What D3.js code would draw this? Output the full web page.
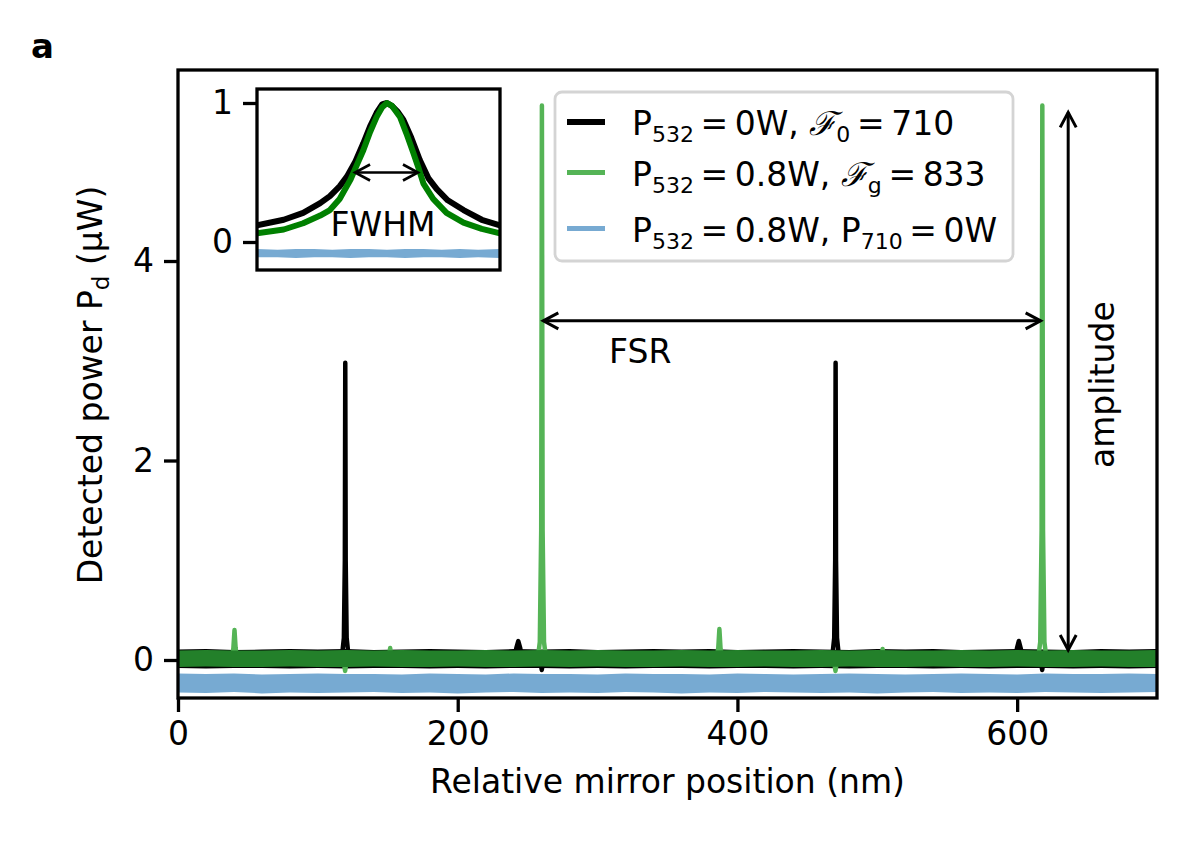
<!DOCTYPE html>
<html>
<head>
<meta charset="utf-8">
<script src="https://cdn.jsdelivr.net/npm/d3@7"></script>
<style>
  body { margin: 0; background: #fff; }
  text { font-family: "DejaVu Sans", sans-serif; fill: #000; }
</style>
</head>
<body>
<div id="container"></div>
<script>
// ---- data ----
// noise envelopes of the baselines, sampled every 20 nm
var envX = [0,20,40,60,80,100,120,140,160,180,200,220,240,260,280,300,320,340,360,380,400,420,440,460,480,500,520,540,560,580,600,620,640,660,680,700];
var blueHi  = [-0.135,-0.14,-0.135,-0.145,-0.14,-0.135,-0.14,-0.14,-0.145,-0.135,-0.14,-0.145,-0.135,-0.14,-0.14,-0.145,-0.135,-0.14,-0.14,-0.145,-0.135,-0.14,-0.145,-0.14,-0.135,-0.14,-0.145,-0.14,-0.135,-0.14,-0.145,-0.135,-0.14,-0.14,-0.135,-0.14];
var blueLo  = [-0.325,-0.33,-0.32,-0.335,-0.325,-0.33,-0.325,-0.32,-0.33,-0.325,-0.335,-0.325,-0.32,-0.33,-0.325,-0.33,-0.32,-0.325,-0.335,-0.325,-0.33,-0.32,-0.325,-0.33,-0.325,-0.335,-0.325,-0.32,-0.33,-0.325,-0.33,-0.32,-0.325,-0.33,-0.325,-0.32];
var greenHi = [0.095,0.10,0.095,0.095,0.10,0.095,0.10,0.095,0.10,0.095,0.095,0.10,0.095,0.10,0.095,0.10,0.095,0.095,0.10,0.095,0.10,0.095,0.095,0.10,0.095,0.10,0.095,0.095,0.10,0.095,0.10,0.095,0.10,0.095,0.095,0.10];
var greenLo = [-0.07,-0.065,-0.07,-0.07,-0.065,-0.07,-0.07,-0.065,-0.07,-0.07,-0.065,-0.07,-0.07,-0.065,-0.07,-0.065,-0.07,-0.07,-0.065,-0.07,-0.07,-0.065,-0.07,-0.07,-0.065,-0.07,-0.07,-0.065,-0.07,-0.07,-0.065,-0.07,-0.07,-0.065,-0.07,-0.07];
var blackHi = [0.105,0.11,0.10,0.105,0.11,0.105,0.11,0.10,0.105,0.11,0.105,0.10,0.11,0.105,0.11,0.10,0.105,0.11,0.105,0.11,0.10,0.105,0.11,0.105,0.10,0.11,0.105,0.11,0.10,0.105,0.11,0.105,0.10,0.11,0.105,0.11];
var blackLo = [-0.08,-0.085,-0.08,-0.08,-0.085,-0.08,-0.085,-0.08,-0.08,-0.085,-0.08,-0.085,-0.08,-0.08,-0.085,-0.08,-0.085,-0.08,-0.08,-0.085,-0.08,-0.08,-0.085,-0.08,-0.085,-0.08,-0.08,-0.085,-0.08,-0.085,-0.08,-0.08,-0.085,-0.08,-0.085,-0.08];

// P532 = 0 W trace (peaks, small dips where the other trace peaks)
var blackX = [0,116,117.4,118.6,119.3,119.6,119.9,120.6,121.8,123.2,240.5,241.9,243.3,244.7,246,258.8,260.1,261.4,466.6,468,469.2,469.9,470.2,470.5,471.2,472.4,473.8,598.5,599.9,601.2,602.5,604,616.6,617.9,619.2,700];
var blackY = [0.01,0.01,0.06,0.22,1.0,2.98,1.0,0.22,0.06,0.01,0.01,0.12,0.19,0.12,0.01,0.01,-0.1,0.01,0.01,0.06,0.22,1.0,2.98,1.0,0.22,0.06,0.01,0.01,0.12,0.19,0.12,0.01,0.01,-0.1,0.01,0.01];
// P532 = 0.8 W trace (peaks)
var greenX = [0,38.6,39.6,40.4,41.2,42.2,118.2,119.5,120.8,150.6,151.7,152.8,257.2,258.7,259.7,260.2,260.7,261.7,263.2,384.9,386.3,387.1,387.9,389.3,468.8,470.1,471.4,502.8,503.8,504.8,615,616.5,617.5,618,618.5,619.5,621,700];
var greenY = [0.01,0.01,0.12,0.30,0.12,0.01,0.01,-0.11,0.01,0.01,0.12,0.01,0.01,0.18,1.3,5.56,1.3,0.18,0.01,0.01,0.12,0.31,0.12,0.01,0.01,-0.11,0.01,0.01,0.11,0.01,0.01,0.18,1.3,5.56,1.3,0.18,0.01,0.01];

// inset (normalised peak)
var insBlackX = [-1.07,-0.85,-0.69,-0.55,-0.47,-0.39,-0.33,-0.26,-0.195,-0.14,-0.085,-0.04,0,0.04,0.085,0.134,0.2,0.27,0.34,0.41,0.5,0.63,0.78,0.93];
var insBlackY = [0.12,0.16,0.21,0.28,0.33,0.40,0.47,0.58,0.71,0.83,0.93,0.99,1.0,0.98,0.94,0.88,0.75,0.59,0.46,0.38,0.30,0.23,0.16,0.12];
var insGreenX = [-1.07,-0.85,-0.69,-0.55,-0.47,-0.39,-0.30,-0.245,-0.195,-0.14,-0.085,-0.04,0,0.04,0.107,0.16,0.217,0.26,0.3,0.38,0.49,0.63,0.78,0.93];
var insGreenY = [0.063,0.09,0.135,0.19,0.23,0.31,0.45,0.56,0.66,0.79,0.90,0.97,1.0,0.98,0.90,0.78,0.64,0.53,0.42,0.31,0.21,0.14,0.095,0.063];
var insBlueX  = [-1.07,-0.9,-0.75,-0.6,-0.45,-0.3,-0.15,0,0.15,0.3,0.45,0.6,0.75,0.93];
var insBlueHi = [-0.05,-0.055,-0.05,-0.05,-0.055,-0.05,-0.05,-0.055,-0.05,-0.05,-0.055,-0.05,-0.055,-0.05];
var insBlueLo = [-0.11,-0.11,-0.115,-0.11,-0.11,-0.115,-0.11,-0.11,-0.115,-0.11,-0.11,-0.115,-0.11,-0.115];

var xTicks = [0, 200, 400, 600];
var yTicks = [0, 2, 4];
var insTicks = [0, 1];

var legendColors = ["#000000", "#55b456", "#77aad2"];
var legendWidths = [6, 5, 5];
// each label: [text, kind]  kind: "" normal, "sub" subscript, "cal" calligraphic
var legendLabels = [
  [["P",""],["532","sub"],["\u2009=\u20090W, ",""],["\u2131","cal"],["0","sub"],["\u2009=\u2009710",""]],
  [["P",""],["532","sub"],["\u2009=\u20090.8W, ",""],["\u2131","cal"],["g","sub"],["\u2009=\u2009833",""]],
  [["P",""],["532","sub"],["\u2009=\u20090.8W, ",""],["P",""],["710","sub"],["\u2009=\u20090W",""]]
];

// ---- layout ----
var W = 1186, H = 841;
var m = {left: 178, right: 1157, top: 70, bottom: 698};
var fs = 33;

var svg = d3.select("#container").append("svg").attr("width", W).attr("height", H)
  .style("display", "block");

var x = d3.scaleLinear().domain([0, 700]).range([m.left, m.right]);
var y = d3.scaleLinear().domain([-0.381, 5.915]).range([m.bottom, m.top]);

svg.append("clipPath").attr("id", "clipMain").append("rect")
  .attr("x", m.left).attr("y", m.top).attr("width", m.right - m.left).attr("height", m.bottom - m.top);

var plot = svg.append("g").attr("clip-path", "url(#clipMain)");

function band(xs, lo, hi) {
  var pts = xs.map(function(d, i) { return [d, lo[i], hi[i]]; });
  return d3.area().x(function(d) { return x(d[0]); })
    .y0(function(d) { return y(d[1]); }).y1(function(d) { return y(d[2]); })(pts);
}
function trace(xs, ys, sx, sy) {
  return d3.line().x(function(d) { return sx(d[0]); }).y(function(d) { return sy(d[1]); })
    (xs.map(function(d, i) { return [d, ys[i]]; }));
}

plot.append("path").attr("d", band(envX, blueLo, blueHi)).attr("fill", "#77aad2");
plot.append("path").attr("d", band(envX, blackLo, blackHi)).attr("fill", "#000");
plot.append("path").attr("d", trace(blackX, blackY, x, y))
  .attr("fill", "none").attr("stroke", "#000").attr("stroke-width", 4.5)
  .attr("stroke-linejoin", "round").attr("stroke-linecap", "round");
plot.append("path").attr("d", trace(greenX, greenY, x, y))
  .attr("fill", "none").attr("stroke", "#55b456").attr("stroke-width", 4.5)
  .attr("stroke-linejoin", "round").attr("stroke-linecap", "round");
plot.append("path").attr("d", band(envX, greenLo, greenHi)).attr("fill", "#23802a");

// arrows (open heads, like matplotlib "<->")
function arrow(g, x1, y1, x2, y2, sw) {
  var dx = x2 - x1, dy = y2 - y1, L = Math.sqrt(dx * dx + dy * dy);
  var ux = dx / L, uy = dy / L, nx = -uy, ny = ux, hl = 15, hw = 8;
  g.append("line").attr("x1", x1).attr("y1", y1).attr("x2", x2).attr("y2", y2)
    .attr("stroke", "#000").attr("stroke-width", sw);
  [[x1, y1, 1], [x2, y2, -1]].forEach(function(t) {
    var bx = t[0] + t[2] * ux * hl, by = t[1] + t[2] * uy * hl;
    g.append("path")
      .attr("d", "M" + (bx + nx * hw) + "," + (by + ny * hw) + "L" + t[0] + "," + t[1] +
                 "L" + (bx - nx * hw) + "," + (by - ny * hw))
      .attr("fill", "none").attr("stroke", "#000").attr("stroke-width", sw);
  });
}
arrow(svg, x(261.2), y(3.40), x(616.8), y(3.40), 3);
arrow(svg, x(636.5), y(5.49), x(636.5), y(0.10), 3);

svg.append("text").attr("x", x(330.5)).attr("y", y(3.10)).attr("dy", "0.36em")
  .attr("text-anchor", "middle").style("font-size", fs + "px").text("FSR");
svg.append("text").attr("transform", "translate(" + x(661) + "," + y(2.76) + ") rotate(-90)")
  .attr("dy", "0.36em").attr("text-anchor", "middle").style("font-size", fs + "px").text("amplitude");

// axes
var xAxis = svg.append("g").attr("transform", "translate(0," + m.bottom + ")")
  .call(d3.axisBottom(x).tickValues(xTicks).tickSize(14).tickPadding(10).tickFormat(d3.format("d")));
var yAxis = svg.append("g").attr("transform", "translate(" + m.left + ",0)")
  .call(d3.axisLeft(y).tickValues(yTicks).tickSize(14).tickPadding(10).tickFormat(d3.format("d")));
[xAxis, yAxis].forEach(function(a) {
  a.select(".domain").remove();
  a.selectAll(".tick line").attr("stroke", "#000").attr("stroke-width", 3.3);
  a.selectAll(".tick text").style("font-size", fs + "px").style("font-family", "DejaVu Sans");
});
svg.append("rect").attr("x", m.left).attr("y", m.top)
  .attr("width", m.right - m.left).attr("height", m.bottom - m.top)
  .attr("fill", "none").attr("stroke", "#000").attr("stroke-width", 3.3);

svg.append("text").attr("x", (m.left + m.right) / 2).attr("y", 793)
  .attr("text-anchor", "middle").style("font-size", fs + "px").text("Relative mirror position (nm)");
var yl = svg.append("text").attr("transform", "translate(102,385) rotate(-90)")
  .attr("text-anchor", "middle").style("font-size", fs + "px");
yl.append("tspan").text("Detected power P");
yl.append("tspan").attr("dy", 7).style("font-size", "23px").text("d");
yl.append("tspan").attr("dy", -7).text(" (\u00b5W)");

svg.append("text").attr("x", 31).attr("y", 58).style("font-size", "34px")
  .style("font-weight", "bold").text("a");

// ---- inset ----
var ib = {left: 257, right: 500, top: 89, bottom: 270};
var ix = d3.scaleLinear().domain([-1.07, 0.93]).range([ib.left, ib.right]);
var iy = d3.scaleLinear().domain([-0.2014, 1.1007]).range([ib.bottom, ib.top]);

svg.append("rect").attr("x", ib.left).attr("y", ib.top)
  .attr("width", ib.right - ib.left).attr("height", ib.bottom - ib.top).attr("fill", "#fff");
svg.append("clipPath").attr("id", "clipIns").append("rect")
  .attr("x", ib.left).attr("y", ib.top).attr("width", ib.right - ib.left).attr("height", ib.bottom - ib.top);
var ins = svg.append("g").attr("clip-path", "url(#clipIns)");

ins.append("path")
  .attr("d", d3.area().x(function(d) { return ix(d[0]); })
    .y0(function(d) { return iy(d[1]); }).y1(function(d) { return iy(d[2]); })
    (insBlueX.map(function(d, i) { return [d, insBlueLo[i], insBlueHi[i]]; })))
  .attr("fill", "#77aad2");
ins.append("path").attr("d", trace(insBlackX, insBlackY, ix, iy))
  .attr("fill", "none").attr("stroke", "#000").attr("stroke-width", 6)
  .attr("stroke-linejoin", "round");
ins.append("path").attr("d", trace(insGreenX, insGreenY, ix, iy))
  .attr("fill", "none").attr("stroke", "#008000").attr("stroke-width", 6)
  .attr("stroke-linejoin", "round");

arrow(svg, ix(-0.263), iy(0.5), ix(0.255), iy(0.5), 2.6);
svg.append("text").attr("x", ix(-0.033)).attr("y", iy(0.13)).attr("dy", "0.36em")
  .attr("text-anchor", "middle").style("font-size", fs + "px").text("FWHM");

var iAxis = svg.append("g").attr("transform", "translate(" + ib.left + ",0)")
  .call(d3.axisLeft(iy).tickValues(insTicks).tickSize(14).tickPadding(10).tickFormat(d3.format("d")));
iAxis.select(".domain").remove();
iAxis.selectAll(".tick line").attr("stroke", "#000").attr("stroke-width", 3.3);
iAxis.selectAll(".tick text").style("font-size", fs + "px").style("font-family", "DejaVu Sans");
svg.append("rect").attr("x", ib.left).attr("y", ib.top)
  .attr("width", ib.right - ib.left).attr("height", ib.bottom - ib.top)
  .attr("fill", "none").attr("stroke", "#000").attr("stroke-width", 3.3);

// ---- legend ----
var lg = svg.append("g");
lg.append("rect").attr("x", 555).attr("y", 92).attr("width", 458).attr("height", 169)
  .attr("rx", 7).attr("fill", "#fff").attr("fill-opacity", 0.8)
  .attr("stroke", "#d4d4d4").attr("stroke-width", 2.8);
var rowY = [122, 172.5, 228.5];
legendLabels.forEach(function(parts, i) {
  lg.append("line").attr("x1", 567).attr("x2", 605).attr("y1", rowY[i]).attr("y2", rowY[i])
    .attr("stroke", legendColors[i]).attr("stroke-width", legendWidths[i]);
  var t = lg.append("text").attr("x", 632).attr("y", rowY[i] + 13).style("font-size", fs + "px");
  var shifted = false;
  parts.forEach(function(p) {
    var s = t.append("tspan").text(p[0]);
    if (p[1] === "sub") {
      s.attr("dy", shifted ? 0 : 7).style("font-size", "22px");
      shifted = true;
    } else {
      if (shifted) { s.attr("dy", -7); shifted = false; }
      if (p[1] === "cal") s.style("font-style", "italic").style("font-family", "DejaVu Serif");
    }
  });
});
</script>
</body>
</html>
